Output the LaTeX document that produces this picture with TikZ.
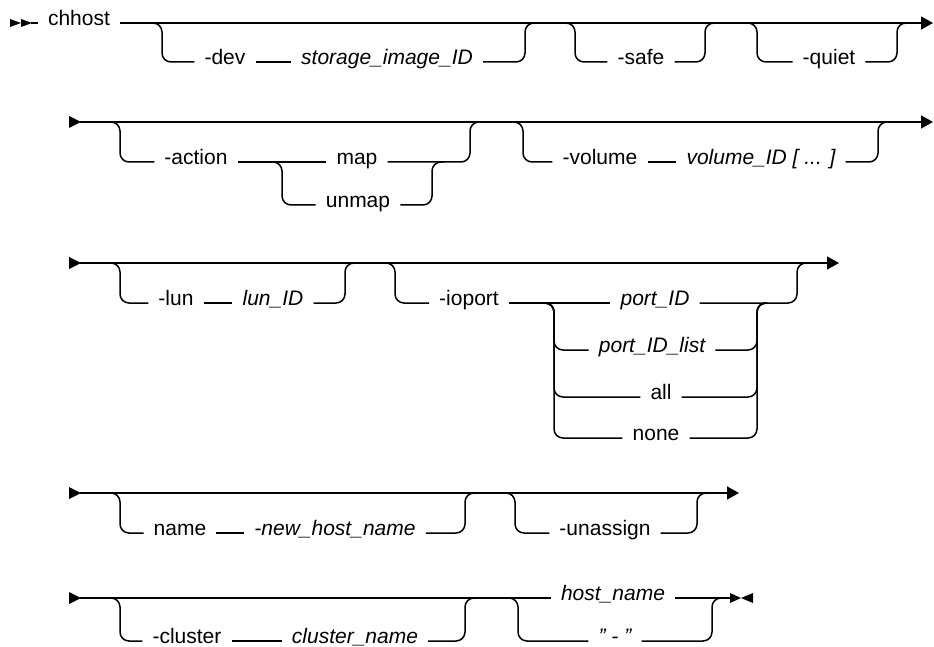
\documentclass[tikz,border=0pt]{standalone}
\usepackage{fontspec}
\setmainfont{Liberation Sans}
\usetikzlibrary{arrows.meta}
\begin{document}
\begin{tikzpicture}[x=1pt,y=-1pt,
  ln/.style={line width=1.5pt, line join=round},
  rr/.style={ln, rounded corners=9pt},
  kw/.style={font=\fontsize{21}{25}\selectfont, inner xsep=10pt, inner ysep=0pt, anchor=mid},
  var/.style={kw, font=\fontsize{21}{25}\selectfont\itshape},
  tail/.style={ln, -{Triangle[length=12pt,width=13pt]}},
]
\useasboundingbox (0,0) rectangle (934,647);

% ---------- Row 1 ----------
\fill (10,19) -- (21,23) -- (10,27) -- cycle;
\fill (21,19) -- (32,23) -- (21,27) -- cycle;
\coordinate (s1) at (31,23);
\node[kw] (chhost) at (79,23) {chhost};
\coordinate (e1) at (933,23);
\draw[ln] (s1) -- (chhost.mid west);
\draw[tail] (chhost.mid east) -- (e1);

\node[kw] (dev) at (225,62) {-dev};
\node[var] (sid) at (387,62) {storage\_image\_ID};
\coordinate (d1) at (150,23); \coordinate (d2) at (537,23);
\draw[rr] (d1) -- (162,23) -- (162,62) -- (dev.mid west);
\draw[ln] (dev.mid east) -- (sid.mid west);
\draw[rr] (sid.mid east) -- (525,62) -- (525,23) -- (d2);

\node[kw] (safe) at (641,62) {-safe};
\coordinate (sf1) at (563,23); \coordinate (sf2) at (717,23);
\draw[rr] (sf1) -- (575,23) -- (575,62) -- (safe.mid west);
\draw[rr] (safe.mid east) -- (705,62) -- (705,23) -- (sf2);

\node[kw] (quiet) at (829,62) {-quiet};
\coordinate (q1) at (745,23); \coordinate (q2) at (909,23);
\draw[rr] (q1) -- (757,23) -- (757,62) -- (quiet.mid west);
\draw[rr] (quiet.mid east) -- (897,62) -- (897,23) -- (q2);

% ---------- Row 2 ----------
\fill (69,116) -- (81,122) -- (69,128) -- cycle;
\coordinate (s2) at (80,122); \coordinate (e2) at (933,122);
\draw[tail] (s2) -- (e2);

\node[kw] (action) at (196,162) {-action};
\node[kw] (map) at (357,162) {map};
\node[kw] (unmap) at (358,205) {unmap};
\coordinate (a1) at (108,122); \coordinate (a2) at (482,122);
\draw[rr] (a1) -- (120,122) -- (120,162) -- (action.mid west);
\draw[ln] (action.mid east) -- (map.mid west);
\coordinate (m1) at (271,162); \coordinate (m2) at (444,162);
\draw[rr] (m1) -- (282,162) -- (282,205) -- (unmap.mid west);
\draw[rr] (unmap.mid east) -- (432,205) -- (432,162) -- (m2);
\draw[rr] (map.mid east) -- (470,162) -- (470,122) -- (a2);

\node[kw] (vol) at (600,162) {-volume};
\node[var] (volid) at (761,162) {volume\_ID [ ... ]};
\coordinate (v1) at (511,122); \coordinate (v2) at (890,122);
\draw[rr] (v1) -- (523,122) -- (523,162) -- (vol.mid west);
\draw[ln] (vol.mid east) -- (volid.mid west);
\draw[rr] (volid.mid east) -- (878,162) -- (878,122) -- (v2);

% ---------- Row 3 ----------
\fill (69,257) -- (81,263) -- (69,269) -- cycle;
\coordinate (s3) at (80,263); \coordinate (e3) at (839,263);
\draw[tail] (s3) -- (e3);

\node[kw] (lun) at (176,303) {-lun};
\node[var] (lunid) at (273,303) {lun\_ID};
\coordinate (l1) at (108,263); \coordinate (l2) at (357,263);
\draw[rr] (l1) -- (120,263) -- (120,303) -- (lun.mid west);
\draw[ln] (lun.mid east) -- (lunid.mid west);
\draw[rr] (lunid.mid east) -- (345,303) -- (345,263) -- (l2);

\node[kw] (ioport) at (469,303) {-ioport};
\node[var] (pid) at (655,303) {port\_ID};
\node[var] (plist) at (652,350) {port\_ID\_list};
\node[kw] (all) at (661,397) {all};
\node[kw] (none) at (656,438) {none};
\coordinate (i1) at (383,263); \coordinate (i2) at (807,263);
\draw[rr] (i1) -- (395,263) -- (395,303) -- (ioport.mid west);
\draw[ln] (ioport.mid east) -- (pid.mid west);
\coordinate (p1) at (543,303); \coordinate (p2) at (767,303);
\foreach \n in {plist,all,none} {
  \draw[rr] (p1) -- (554,303) |- (\n.mid west);
  \draw[rr] (\n.mid east) -| (757,303) -- (p2);
}
\draw[rr] (pid.mid east) -- (797,303) -- (797,263) -- (i2);

% ---------- Row 4 ----------
\fill (69,487) -- (81,493) -- (69,499) -- cycle;
\coordinate (s4) at (80,493); \coordinate (e4) at (739,493);
\draw[tail] (s4) -- (e4);

\node[kw] (name) at (180,533) {name};
\node[var] (nhn) at (335,533) {-new\_host\_name};
\coordinate (n1) at (108,493); \coordinate (n2) at (477,493);
\draw[rr] (n1) -- (120,493) -- (120,533) -- (name.mid west);
\draw[ln] (name.mid east) -- (nhn.mid west);
\draw[rr] (nhn.mid east) -- (465,533) -- (465,493) -- (n2);

\node[kw] (unassign) at (605,533) {-unassign};
\coordinate (u1) at (503,493); \coordinate (u2) at (709,493);
\draw[rr] (u1) -- (515,493) -- (515,533) -- (unassign.mid west);
\draw[rr] (unassign.mid east) -- (697,533) -- (697,493) -- (u2);

% ---------- Row 5 ----------
\fill (69,592) -- (81,598) -- (69,604) -- cycle;
\coordinate (s5) at (80,598);
\node[var] (host) at (613,598) {host\_name};
\draw[ln] (s5) -- (host.mid west);

\node[kw] (cluster) at (187,641) {-cluster};
\node[var] (clname) at (355,641) {cluster\_name};
\coordinate (c1) at (108,598); \coordinate (c2) at (477,598);
\draw[rr] (c1) -- (120,598) -- (120,641) -- (cluster.mid west);
\draw[ln] (cluster.mid east) -- (clname.mid west);
\draw[rr] (clname.mid east) -- (465,641) -- (465,598) -- (c2);

\node[var] (dash) at (615,641) {" - "};
\coordinate (h1) at (506,598); \coordinate (h2) at (724,598);
\draw[rr] (h1) -- (518,598) -- (518,641) -- (dash.mid west);
\draw[rr] (dash.mid east) -- (712,641) -- (712,598) -- (h2);
\coordinate (fin) at (730,598);
\draw[ln] (host.mid east) -- (fin);
\fill (730,593) -- (741,598) -- (730,603) -- cycle;
\fill (753,593) -- (741,598) -- (753,603) -- cycle;
\end{tikzpicture}
\end{document}
